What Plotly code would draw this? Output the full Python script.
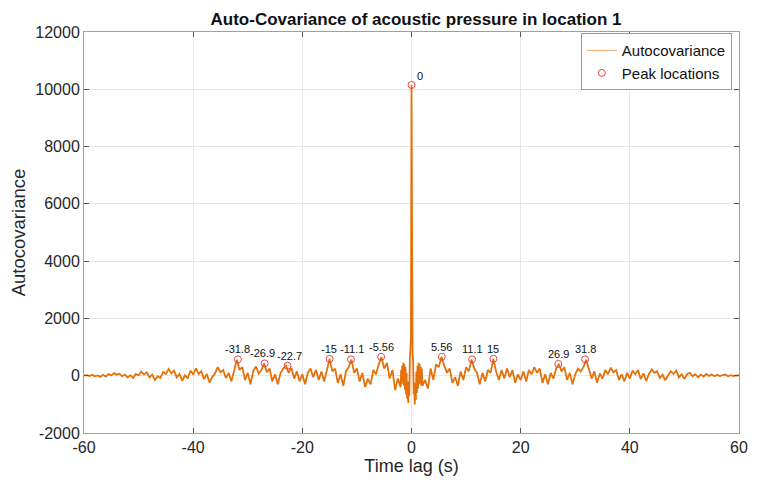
import numpy as np
import plotly.graph_objects as go

# Autocovariance: outer parts at 0.5 s, central part at 0.1 s
acov_left = [
    0, 20, -10, 30, -20, 10, -40, 30, -30, 60,
    10, 90, 30, 70, -20, 40, -60, 20, -80, 60,
    10, 150, 40, 120, -60, 40, -150, -20, -80, 130,
    60, 230, 80, 180, -60, 60, -180, 20, -100, 180,
    40, 260, 60, 160, -120, 60, -240, -40, 80, 300,
    120, 200, -80, 100, -200, 150, 560, 200, 300, -150,
    100, -300, 150, 320, 80, 200, 430, 120, 250, -200,
    50, -300, 80, 250, 350, 100, 280, -100, 150, -200,
    50, -300, 100, 250, -50, 200, -150, 150, -200, 200,
    590, 150, 250, -250, 50, -350, 150, 300, 560, 100,
    250, -200, 100, -400, -100, -300, 200, 50, 400, 650,
    250, 450, -100, 200, -500, -100,
]  # -60.0 .. -2.5
acov_center = [
    -400, 200, -300, 350, -200, 450, -350, 400, -500, 300,
    -650, 100, -800, -200, -950, -400, -700, 600, 900, 1300,
    10150,
    1350, 850, 500, -650, -450, -1000, -250, -850, 150, -600,
    350, -450, 450, -300, 400, -250, 300, -350, 250, -350,
]  # -2.0 .. 2.0
acov_right = [
    -150, -450, 250, -150, 400, 300, 660, 350, 100, 250,
    -250, -50, -350, 150, -150, 300, 150, 570, 250, 100,
    -300, 100, -200, 200, 100, 590, 150, -150, 200, -100,
    250, -50, 200, -250, 50, -150, 150, -200, 200, 50,
    300, 100, 250, -250, 50, -300, 100, -100, 250, 410,
    150, 300, -150, 100, -300, 50, 250, 150, 300, 560,
    200, -100, 150, -250, 80, -100, 200, 50, 280, 120,
    200, -150, 50, -200, 100, -100, 180, 50, 200, -120,
    80, -180, 60, 220, 100, 160, -80, 40, -160, 20,
    160, 60, 180, -60, 50, -120, 60, 100, -20, 50,
    -60, 40, -30, 60, -10, 40, -20, 30, -10, 20,
    40, -20, 20, -10, 10, 0,
]  # 2.5 .. 60.0

lag_left = [-60 + 0.5 * i for i in range(len(acov_left))]
lag_center = [round(-2 + 0.1 * i, 2) for i in range(len(acov_center))]
lag_right = [2.5 + 0.5 * i for i in range(len(acov_right))]
lags = lag_left + lag_center + lag_right
acov = acov_left + acov_center + acov_right

peak_lags = [-31.8, -26.9, -22.7, -15, -11.1, -5.56, 0, 5.56, 11.1, 15, 26.9, 31.8]
peak_vals = [570, 430, 350, 590, 570, 660, 10150, 660, 570, 590, 410, 570]
peak_labels = ["-31.8", "-26.9", "-22.7", "-15", "-11.1", "-5.56", "0",
               "5.56", "11.1", "15", "26.9", "31.8"]

x_ticks = [-60, -40, -20, 0, 20, 40, 60]
y_ticks = [-2000, 0, 2000, 4000, 6000, 8000, 10000, 12000]

LINE_COLOR = "rgb(228,114,10)"

fig = go.Figure()
fig.add_trace(go.Scatter(x=lags, y=acov, mode="lines", name="Autocovariance",
                         showlegend=False, line=dict(color=LINE_COLOR, width=1.8)))
# legend entry with the thin line look of the reference
fig.add_trace(go.Scatter(x=[None], y=[None], mode="lines", name="Autocovariance",
                         line=dict(color="rgb(240,170,110)", width=1)))
fig.add_trace(go.Scatter(x=peak_lags, y=peak_vals, mode="markers", name="Peak locations",
                         marker=dict(symbol="circle-open", size=7,
                                     color="rgb(225,70,70)", line=dict(width=1))))

shifts = {"-26.9": -2, "-22.7": 2, "-15": -1, "-11.1": 1}
for lx, ly, lt in zip(peak_lags, peak_vals, peak_labels):
    if lt == "0":
        fig.add_annotation(x=lx, y=ly, text=lt, showarrow=False, xanchor="left",
                           yanchor="bottom", xshift=3, yshift=1,
                           font=dict(size=11, color="#111111"))
    else:
        fig.add_annotation(x=lx, y=ly, text=lt, showarrow=False, xanchor="center",
                           yanchor="bottom", xshift=shifts.get(lt, 0), yshift=2,
                           font=dict(size=11, color="#111111"))

axis_common = dict(showline=True, linecolor="#a0a0a0", linewidth=1, mirror="ticks",
                   ticks="inside", ticklen=5, tickcolor="#555555",
                   showgrid=True, gridcolor="#e6e6e6", zeroline=False,
                   tickfont=dict(size=16, color="#262626"))
fig.update_layout(
    width=759, height=483,
    margin=dict(l=84, r=11, t=32, b=50),
    paper_bgcolor="white", plot_bgcolor="white",
    font=dict(family="Liberation Sans", color="#262626"),
    title=dict(text="<b>Auto-Covariance of acoustic pressure in location 1</b>",
               x=(84 + 748) / 2 / 759, xanchor="center", y=0.96, yanchor="middle",
               font=dict(size=17, color="#111111")),
    xaxis=dict(range=[-60, 60], tickvals=x_ticks, ticktext=[str(v) for v in x_ticks],
               title=dict(text="Time lag (s)", font=dict(size=18), standoff=2),
               **axis_common),
    yaxis=dict(range=[-2000, 12000], tickvals=y_ticks, ticktext=[str(v) for v in y_ticks],
               title=dict(text="Autocovariance", font=dict(size=18.5), standoff=4),
               **axis_common),
    legend=dict(x=0.989, y=0.997, xanchor="right", yanchor="top",
                bgcolor="white", bordercolor="#9a9a9a", borderwidth=1,
                font=dict(size=15, color="#111111"), tracegroupgap=0,
                itemwidth=30),
    showlegend=True,
)
fig.write_html("out.html")
